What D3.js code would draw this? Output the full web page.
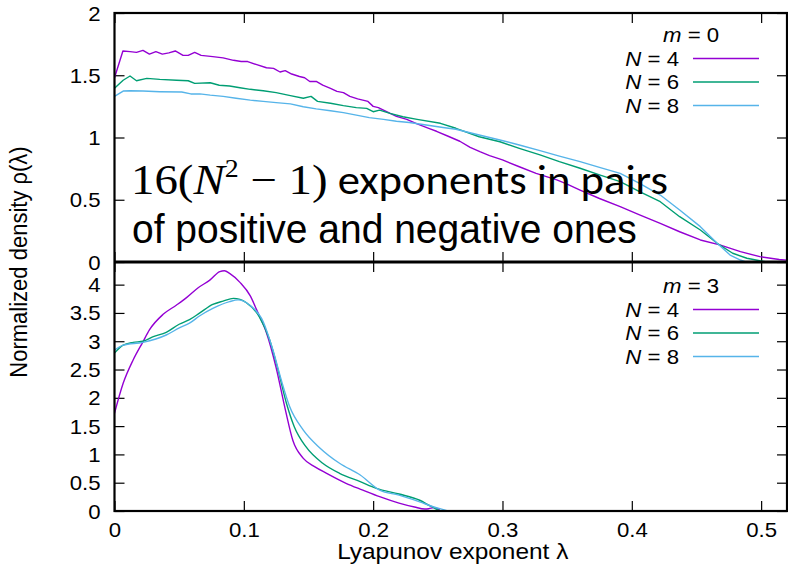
<!DOCTYPE html>
<html>
<head>
<meta charset="utf-8">
<script src="https://cdn.jsdelivr.net/npm/d3@7"></script>
<style>
  body { margin: 0; background: #fff; }
  svg { display: block; }
  text { font-family: "Liberation Sans", Arial, sans-serif; fill: #000; }
</style>
</head>
<body>
<script>
const width = 788;
const height = 569;

// series values: [lambda, density]
const m0N4 = [[0,1.48],[0.0065,1.695],[0.012,1.69],[0.017,1.684],[0.022,1.70],[0.027,1.67],[0.032,1.69],[0.037,1.67],[0.042,1.68],[0.047,1.695],[0.053,1.66],[0.057,1.66],[0.062,1.684],[0.067,1.66],[0.076,1.65],[0.084,1.64],[0.092,1.62],[0.098,1.61],[0.103,1.61],[0.11,1.585],[0.1175,1.56],[0.123,1.555],[0.128,1.526],[0.132,1.537],[0.137,1.51],[0.143,1.49],[0.147,1.48],[0.151,1.45],[0.156,1.45],[0.161,1.42],[0.167,1.395],[0.172,1.37],[0.177,1.36],[0.182,1.33],[0.188,1.31],[0.196,1.29],[0.2,1.25],[0.204,1.24],[0.21,1.21],[0.218,1.17],[0.226,1.146],[0.234,1.11],[0.244,1.07],[0.249,1.05],[0.258,1.01],[0.267,0.97],[0.275,0.92],[0.2825,0.886],[0.29,0.855],[0.30,0.82],[0.313,0.765],[0.326,0.712],[0.342,0.66],[0.35,0.625],[0.36,0.578],[0.375,0.51],[0.391,0.444],[0.406,0.378],[0.422,0.31],[0.437,0.243],[0.453,0.177],[0.468,0.137],[0.484,0.083],[0.499,0.043],[0.514,0.02],[0.52,0.015]];
const m0N6 = [[0,1.395],[0.0067,1.46],[0.012,1.494],[0.017,1.456],[0.025,1.475],[0.035,1.467],[0.048,1.46],[0.057,1.456],[0.062,1.435],[0.074,1.44],[0.081,1.42],[0.089,1.414],[0.097,1.40],[0.105,1.387],[0.115,1.376],[0.125,1.36],[0.136,1.336],[0.146,1.315],[0.152,1.33],[0.157,1.29],[0.167,1.275],[0.177,1.256],[0.187,1.24],[0.195,1.234],[0.20,1.207],[0.205,1.22],[0.213,1.194],[0.223,1.167],[0.234,1.146],[0.252,1.114],[0.264,1.074],[0.282,1.006],[0.298,0.966],[0.313,0.913],[0.329,0.86],[0.344,0.806],[0.36,0.753],[0.375,0.70],[0.391,0.645],[0.406,0.565],[0.422,0.484],[0.437,0.364],[0.453,0.257],[0.466,0.15],[0.478,0.07],[0.489,0.03],[0.499,0.01],[0.505,0]];
const m0N8 = [[0,1.33],[0.0067,1.373],[0.012,1.376],[0.022,1.373],[0.035,1.368],[0.052,1.365],[0.059,1.35],[0.066,1.35],[0.074,1.34],[0.084,1.33],[0.094,1.315],[0.105,1.30],[0.115,1.29],[0.125,1.28],[0.136,1.27],[0.146,1.247],[0.156,1.23],[0.167,1.215],[0.177,1.2],[0.187,1.18],[0.197,1.16],[0.208,1.146],[0.218,1.13],[0.228,1.12],[0.241,1.10],[0.254,1.08],[0.264,1.066],[0.282,1.02],[0.298,0.98],[0.313,0.94],[0.329,0.894],[0.344,0.85],[0.36,0.806],[0.375,0.76],[0.391,0.712],[0.406,0.632],[0.422,0.538],[0.437,0.418],[0.453,0.284],[0.466,0.15],[0.476,0.056],[0.484,0.016],[0.488,0]];

const m3N4 = [[0,1.726],[0.0067,2.256],[0.0144,2.668],[0.022,2.99],[0.027,3.2],[0.0376,3.475],[0.048,3.64],[0.0557,3.77],[0.0647,3.945],[0.0737,4.08],[0.0814,4.23],[0.085,4.245],[0.089,4.2],[0.097,4.04],[0.105,3.80],[0.11,3.55],[0.1175,3.15],[0.125,2.53],[0.132,1.80],[0.138,1.24],[0.146,0.93],[0.155,0.78],[0.164,0.666],[0.179,0.49],[0.192,0.37],[0.205,0.253],[0.22,0.14],[0.232,0.07],[0.24,0.035],[0.243,0.04],[0.247,0.06],[0.25,0.04],[0.252,0]];
const m3N6 = [[0,2.79],[0.0067,2.93],[0.0144,2.98],[0.022,3.0],[0.03,3.08],[0.04,3.157],[0.05,3.30],[0.058,3.38],[0.066,3.50],[0.076,3.65],[0.084,3.71],[0.092,3.757],[0.097,3.74],[0.102,3.68],[0.112,3.43],[0.12,3.02],[0.1265,2.49],[0.133,1.90],[0.139,1.49],[0.148,1.136],[0.161,0.843],[0.174,0.666],[0.19,0.518],[0.2025,0.40],[0.22,0.30],[0.236,0.19],[0.244,0.09],[0.25,0.02],[0.252,0]];
const m3N8 = [[0,2.84],[0.0067,2.93],[0.022,2.98],[0.04,3.11],[0.0505,3.24],[0.058,3.32],[0.066,3.45],[0.076,3.58],[0.089,3.70],[0.0955,3.73],[0.1045,3.64],[0.115,3.345],[0.1225,2.845],[0.129,2.31],[0.1355,1.84],[0.146,1.43],[0.159,1.11],[0.174,0.843],[0.19,0.636],[0.205,0.37],[0.22,0.28],[0.236,0.16],[0.247,0.07],[0.255,0.02],[0.258,0]];

const seriesNames = ['N = 4', 'N = 6', 'N = 8'];
const seriesColors = ['#9400d3', '#009e73', '#56b4e9'];
const xTicks = [0, 0.1, 0.2, 0.3, 0.4, 0.5];
const yTicksTop = [0, 0.5, 1, 1.5, 2];
const yTicksBot = [0, 0.5, 1, 1.5, 2, 2.5, 3, 3.5, 4];

const sx = 1.11; // the text in the picture is a bit wide

const svg = d3.select('body').append('svg')
  .attr('width', width)
  .attr('height', height);

const x = d3.scaleLinear().domain([0, 0.52]).range([114.5, 787]);
const yTop = d3.scaleLinear().domain([0, 2]).range([262, 13]);
const yBot = d3.scaleLinear().domain([0, 4.4]).range([511, 262]);

// widen a text around its anchor point
const widen = (sel) => sel.each(function () {
  const t = d3.select(this);
  const tx = +t.attr('x') || 0;
  const ty = +t.attr('y') || 0;
  t.attr('x', 0).attr('y', 0)
    .attr('transform', `translate(${tx},${ty}) scale(${sx},1)`);
});

const panels = [
  { y: yTop, ticks: yTicksTop, data: [m0N4, m0N6, m0N8], m: '0', legendY: 35, linear: true },
  { y: yBot, ticks: yTicksBot, data: [m3N4, m3N6, m3N8], m: '3', legendY: 286, linear: false },
];

panels.forEach((p, i) => {
  const [y0, y1] = p.y.range();
  const clipId = 'clip' + i;
  svg.append('clipPath').attr('id', clipId)
    .append('rect')
    .attr('x', x.range()[0]).attr('y', y1)
    .attr('width', x.range()[1] - x.range()[0]).attr('height', y0 - y1);

  // left axis with labels
  const gl = svg.append('g')
    .attr('transform', `translate(${x.range()[0]},0)`)
    .call(d3.axisLeft(p.y).tickValues(p.ticks).tickFormat(d3.format('~g'))
      .tickSize(-10).tickPadding(14));
  gl.select('.domain').remove();
  gl.selectAll('text').attr('font-size', 20).attr('font-family', null)
    .attr('dy', '0.35em');

  // mirrored ticks
  const gr = svg.append('g')
    .attr('transform', `translate(${x.range()[1]},0)`)
    .call(d3.axisRight(p.y).tickValues(p.ticks).tickFormat('').tickSize(-10));
  gr.select('.domain').remove();

  const gt = svg.append('g')
    .attr('transform', `translate(0,${y1})`)
    .call(d3.axisTop(x).tickValues(xTicks).tickFormat('').tickSize(-10));
  gt.select('.domain').remove();

  const gb = svg.append('g')
    .attr('transform', `translate(0,${y0})`)
    .call(d3.axisBottom(x).tickValues(xTicks)
      .tickFormat(i === 1 ? d3.format('~g') : '').tickSize(-10).tickPadding(12));
  gb.select('.domain').remove();
  gb.selectAll('text').attr('font-size', 20).attr('font-family', null);

  svg.selectAll('.tick line').attr('stroke', '#000').attr('stroke-width', 1.2);

  // curves
  const line = d3.line()
    .x(d => x(d[0]))
    .y(d => p.y(d[1]))
    .curve(p.linear ? d3.curveLinear : d3.curveMonotoneX);

  svg.append('g').attr('clip-path', `url(#${clipId})`)
    .selectAll('path')
    .data(p.data)
    .join('path')
    .attr('d', line)
    .attr('fill', 'none')
    .attr('stroke', (d, k) => seriesColors[k])
    .attr('stroke-width', 1.4)
    .attr('stroke-linejoin', 'round');

  // legend
  const lg = svg.append('g');
  const title = lg.append('text')
    .attr('x', 663).attr('y', p.legendY + 7)
    .attr('font-size', 20);
  title.append('tspan').attr('font-style', 'italic').text('m');
  title.append('tspan').text(' = ' + p.m);

  seriesNames.forEach((name, k) => {
    const ly = p.legendY + 23.5 * (k + 1);
    const t = lg.append('text')
      .attr('x', 679).attr('y', ly + 7)
      .attr('font-size', 20).attr('text-anchor', 'end');
    t.append('tspan').attr('font-style', 'italic').text(name.slice(0, 1));
    t.append('tspan').text(name.slice(1));
    lg.append('line')
      .attr('x1', 693).attr('x2', 759)
      .attr('y1', ly).attr('y2', ly)
      .attr('stroke', seriesColors[k]).attr('stroke-width', 1.4);
  });
});

// borders
svg.append('rect')
  .attr('x', x.range()[0]).attr('y', yTop.range()[1])
  .attr('width', x.range()[1] - x.range()[0])
  .attr('height', yBot.range()[0] - yTop.range()[1])
  .attr('fill', 'none').attr('stroke', '#000').attr('stroke-width', 2.2);
svg.append('line')
  .attr('x1', x.range()[0]).attr('x2', x.range()[1])
  .attr('y1', yTop.range()[0]).attr('y2', yTop.range()[0])
  .attr('stroke', '#000').attr('stroke-width', 2.8);

// axis titles
svg.append('text')
  .attr('x', (x.range()[0] + x.range()[1]) / 2 + 2).attr('y', 559)
  .attr('font-size', 22).attr('text-anchor', 'middle')
  .text('Lyapunov exponent λ');

svg.append('text')
  .attr('transform', 'translate(27,262) rotate(-90) scale(1,1.11)')
  .attr('font-size', 22).attr('text-anchor', 'middle')
  .text('Normalized density ρ(λ)');

svg.selectAll('.tick text').call(widen);
svg.selectAll('g > text').filter(function () { return !this.closest('.tick'); }).call(widen);
svg.selectAll('svg > text:not([transform])').call(widen);

// annotation in the upper panel
const note1 = svg.append('text').attr('x', 131).attr('y', 194);
note1.append('tspan').attr('font-family', '"Liberation Serif", serif').attr('font-size', 42).text('16(');
note1.append('tspan').attr('font-family', '"Liberation Serif", serif').attr('font-size', 42)
  .attr('font-style', 'italic').text('N');
note1.append('tspan').attr('font-family', '"Liberation Serif", serif').attr('font-size', 25)
  .attr('dy', -17).text('2');
note1.append('tspan').attr('font-family', '"Liberation Serif", serif').attr('font-size', 42)
  .attr('dy', 17).text(' − 1)');
note1.append('tspan').attr('font-family', 'Carlito, Lato, sans-serif').attr('font-size', 40)
  .text(' exponents in pairs');

const note2 = svg.append('text').attr('x', 132).attr('y', 243)
  .attr('font-family', 'Carlito, Lato, sans-serif').attr('font-size', 40)
  .text('of positive and negative ones');

[[note1, 131, 668], [note2, 132, 637]].forEach(([t, x0, x1]) => {
  const w = t.node().getBBox().width;
  const k = (x1 - x0) / w;
  t.attr('transform', `translate(${x0},0) scale(${k},1) translate(${-x0},0)`);
});
</script>
</body>
</html>
